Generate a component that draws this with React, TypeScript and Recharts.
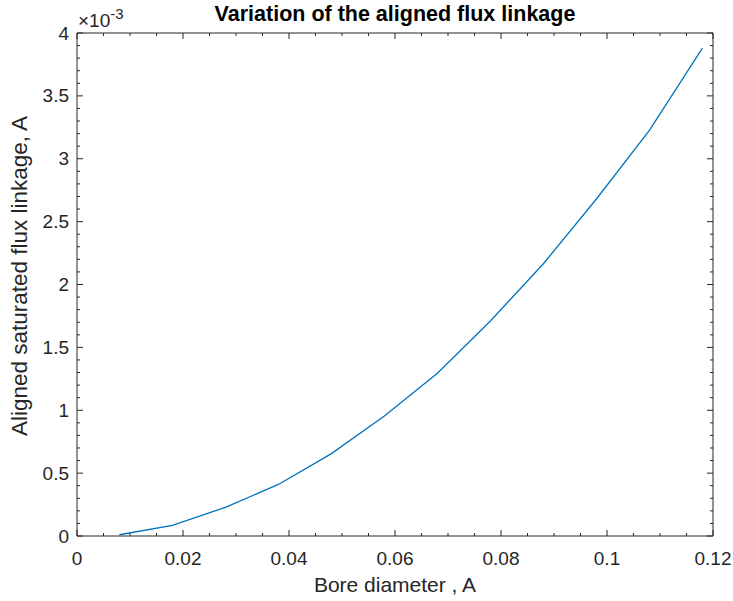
import { LineChart, Line, XAxis, YAxis } from 'recharts'

// bore diameter (m) and aligned saturated flux linkage
const boreDiameter = [0.008, 0.018, 0.028, 0.038, 0.048, 0.058, 0.068, 0.078, 0.088, 0.098, 0.108, 0.118]
const fluxLinkage = [
  0.01e-3, 0.085e-3, 0.228e-3, 0.41e-3, 0.655e-3, 0.955e-3,
  1.295e-3, 1.71e-3, 2.165e-3, 2.68e-3, 3.225e-3, 3.88e-3,
]

const xTicks = [0, 0.02, 0.04, 0.06, 0.08, 0.1, 0.12]
const xTickLabels = ['0', '0.02', '0.04', '0.06', '0.08', '0.1', '0.12']
const yTicks = [0, 0.5e-3, 1e-3, 1.5e-3, 2e-3, 2.5e-3, 3e-3, 3.5e-3, 4e-3]
const yTickLabels = ['0', '0.5', '1', '1.5', '2', '2.5', '3', '3.5', '4']

// minor tick positions (every 0.005 on x, every 0.1e-3 on y)
const xMinor = Array.from({ length: 25 }, (_, i) => i * 0.005)
const yMinor = Array.from({ length: 41 }, (_, i) => i * 0.1e-3)

const data = boreDiameter.map((d, i) => ({ d, flux: fluxLinkage[i] }))

const W = 733
const H = 601
// axes are 1px thick, so plot box ends up at x 77..713, y 33..536
const margin = { top: 32, right: 19, bottom: 64, left: 76 }
const AXIS = '#262626'
const FONT = '"Liberation Sans", Arial, Helvetica, sans-serif'

const majorIndex = (ticks: number[], v: number) =>
  ticks.findIndex((t) => Math.abs(t - v) < Math.abs(ticks[1] - ticks[0]) * 1e-3)

function BottomTick({ x, y, payload }: any) {
  const i = majorIndex(xTicks, payload.value)
  return (
    <g>
      <line x1={x} x2={x} y1={y} y2={y - (i >= 0 ? 6 : 3)} stroke={AXIS} strokeWidth={1} />
      {i >= 0 && (
        <text x={x} y={y + 29} textAnchor="middle" fill={AXIS} fontSize={19} fontFamily={FONT}>
          {xTickLabels[i]}
        </text>
      )}
    </g>
  )
}

function TopTick({ x, y, payload }: any) {
  const i = majorIndex(xTicks, payload.value)
  return <line x1={x} x2={x} y1={y} y2={y + (i >= 0 ? 6 : 3)} stroke={AXIS} strokeWidth={1} />
}

function LeftTick({ x, y, payload }: any) {
  const i = majorIndex(yTicks, payload.value)
  return (
    <g>
      <line x1={x} x2={x + (i >= 0 ? 6 : 3)} y1={y} y2={y} stroke={AXIS} strokeWidth={1} />
      {i >= 0 && (
        <text x={x - 8} y={y + 6.5} textAnchor="end" fill={AXIS} fontSize={19} fontFamily={FONT}>
          {yTickLabels[i]}
        </text>
      )}
    </g>
  )
}

function RightTick({ x, y, payload }: any) {
  const i = majorIndex(yTicks, payload.value)
  return <line x1={x} x2={x - (i >= 0 ? 6 : 3)} y1={y} y2={y} stroke={AXIS} strokeWidth={1} />
}

export default function App() {
  const plotCx = 77 + (713 - 77) / 2
  return (
    <div style={{ position: 'absolute', left: 0, top: 0, width: W, height: H, background: '#fff' }}>
      <LineChart width={W} height={H} data={data} margin={margin}>
        <XAxis
          xAxisId="bottom"
          dataKey="d"
          type="number"
          domain={[0, 0.12]}
          ticks={xMinor}
          interval={0}
          height={1}
          tickSize={0}
          tickMargin={0}
          tickLine={false}
          axisLine={{ stroke: AXIS }}
          tick={BottomTick}
        />
        <XAxis
          xAxisId="top"
          orientation="top"
          dataKey="d"
          type="number"
          domain={[0, 0.12]}
          ticks={xMinor}
          interval={0}
          height={1}
          tickSize={0}
          tickMargin={0}
          tickLine={false}
          axisLine={{ stroke: AXIS }}
          tick={TopTick}
        />
        <YAxis
          yAxisId="left"
          type="number"
          domain={[0, 4e-3]}
          ticks={yMinor}
          interval={0}
          width={1}
          tickSize={0}
          tickMargin={0}
          tickLine={false}
          axisLine={{ stroke: AXIS }}
          tick={LeftTick}
        />
        <YAxis
          yAxisId="right"
          orientation="right"
          type="number"
          domain={[0, 4e-3]}
          ticks={yMinor}
          interval={0}
          width={1}
          tickSize={0}
          tickMargin={0}
          tickLine={false}
          axisLine={{ stroke: AXIS }}
          tick={RightTick}
        />
        <Line
          xAxisId="bottom"
          yAxisId="left"
          type="linear"
          dataKey="flux"
          stroke="#0072BD"
          strokeWidth={1.3}
          dot={false}
          isAnimationActive={false}
        />
        <Line
          xAxisId="top"
          yAxisId="right"
          type="linear"
          dataKey="flux"
          stroke="none"
          dot={false}
          isAnimationActive={false}
        />
      </LineChart>
      <svg
        width={W}
        height={H}
        style={{ position: 'absolute', left: 0, top: 0, pointerEvents: 'none' }}
        fontFamily={FONT}
      >
        <text x={plotCx} y={21} textAnchor="middle" fontSize={21.5} fontWeight="bold" fill="#000">
          Variation of the aligned flux linkage
        </text>
        <text x={78} y={27} fontSize={19} fill={AXIS}>
          ×10<tspan dy={-8} fontSize={15}>-3</tspan>
        </text>
        <text x={plotCx} y={592} textAnchor="middle" fontSize={21} fill={AXIS}>
          Bore diameter , A
        </text>
        <text
          transform={`translate(27, 276) rotate(-90)`}
          textAnchor="middle"
          fontSize={22.5}
          fill={AXIS}
        >
          Aligned saturated flux linkage, A
        </text>
      </svg>
    </div>
  )
}
